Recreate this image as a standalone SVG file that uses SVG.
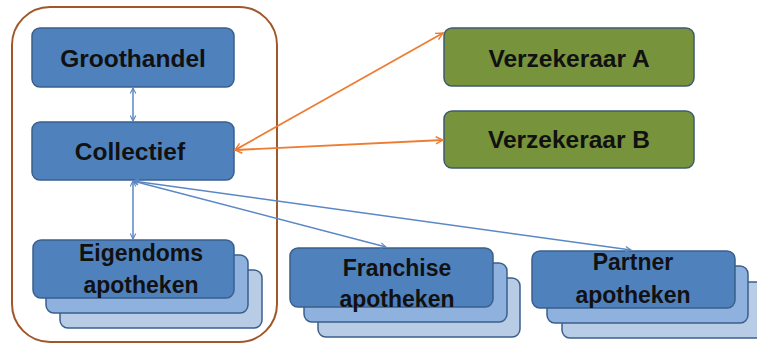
<svg xmlns="http://www.w3.org/2000/svg" width="757" height="346" viewBox="0 0 757 346">
<defs>
<style>
.main{fill:#4f81bd;stroke:#3a5f8c;stroke-width:1.5}
.l2{fill:#8eb1de;stroke:#3a5f8c;stroke-width:1.5}
.l3{fill:#b8cce6;stroke:#3a5f8c;stroke-width:1.5}
.green{fill:#77933c;stroke:#3f5a73;stroke-width:1.5}
.t{font-family:"Liberation Sans",Arial,sans-serif;font-weight:bold;fill:#111;text-anchor:middle}
.big{font-size:24.5px}
.small{font-size:23px}
.blue{stroke:#5b87c5;stroke-width:1.5;fill:none;marker-start:url(#ab);marker-end:url(#ab)}
.orange{stroke:#ee7d31;stroke-width:1.8;fill:none;marker-start:url(#ao);marker-end:url(#ao)}
</style>
<marker id="ab" viewBox="0 0 10 10" refX="9" refY="5" markerWidth="7" markerHeight="7" markerUnits="userSpaceOnUse" orient="auto-start-reverse">
<path d="M1,1 L9,5 L1,9" fill="none" stroke="#5b87c5" stroke-width="1.6"/>
</marker>
<marker id="ao" viewBox="0 0 10 10" refX="9" refY="5" markerWidth="9" markerHeight="9" markerUnits="userSpaceOnUse" orient="auto-start-reverse">
<path d="M1,1 L9,5 L1,9" fill="none" stroke="#ee7d31" stroke-width="1.6"/>
</marker>
</defs>
<rect width="757" height="346" fill="#ffffff"/>
<g id="frame">
<rect x="12" y="7" width="265" height="335" rx="38" ry="38" fill="none" stroke="#a0582a" stroke-width="2"/>
</g>
<g id="groothandel">
<rect class="main" x="32" y="28" width="202" height="59" rx="8"/>
<text class="t big" x="133" y="67">Groothandel</text>
</g>
<g id="collectief">
<rect class="main" x="32" y="122" width="202" height="58" rx="8"/>
<text class="t big" x="130" y="160">Collectief</text>
</g>
<g id="verzekeraar-a">
<rect class="green" x="444" y="28" width="250" height="58" rx="8"/>
<text class="t big" x="569" y="67">Verzekeraar A</text>
</g>
<g id="verzekeraar-b">
<rect class="green" x="444" y="111" width="250" height="57" rx="8"/>
<text class="t big" x="569" y="148">Verzekeraar B</text>
</g>
<g id="eigendoms">
<rect class="l3" x="60" y="270" width="202" height="58" rx="8"/>
<rect class="l2" x="46" y="255" width="202" height="58" rx="8"/>
<rect class="main" x="33" y="240" width="201" height="58" rx="8"/>
<text class="t small" x="141" y="261">Eigendoms</text>
<text class="t small" x="141" y="293">apotheken</text>
</g>
<g id="franchise">
<rect class="l3" x="318" y="278" width="202" height="59" rx="8"/>
<rect class="l2" x="304" y="263" width="203" height="59" rx="8"/>
<rect class="main" x="290" y="248" width="203" height="59" rx="8"/>
<text class="t small" x="397" y="276">Franchise</text>
<text class="t small" x="397" y="307">apotheken</text>
</g>
<g id="partner">
<rect class="l3" x="562" y="282" width="202" height="56" rx="8"/>
<rect class="l2" x="547" y="266" width="201" height="57" rx="8"/>
<rect class="main" x="532" y="251" width="203" height="57" rx="8"/>
<text class="t small" x="633" y="270">Partner</text>
<text class="t small" x="633" y="303">apotheken</text>
</g>
<g id="connectors">
<line class="blue" x1="133" y1="88" x2="133" y2="121"/>
<line class="blue" x1="133" y1="181" x2="133" y2="239"/>
<line class="blue" x1="133" y1="181" x2="386" y2="247"/>
<line class="blue" x1="133" y1="181" x2="631" y2="250"/>
<line class="orange" x1="235" y1="150" x2="443" y2="33"/>
<line class="orange" x1="235" y1="150" x2="443" y2="140"/>
</g>
</svg>
